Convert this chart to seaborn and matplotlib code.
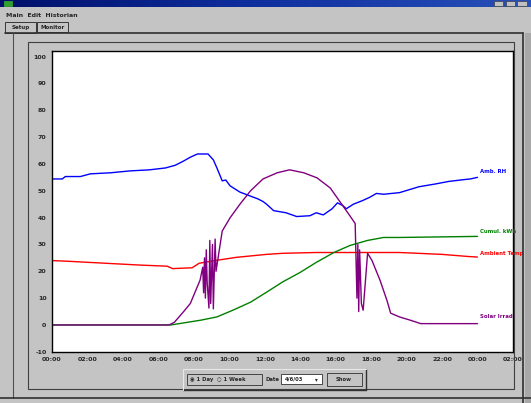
"""
Historian trend screen: ambient RH, temperature, cumulative energy and solar irradiance
"""
import numpy as np
import pandas as pd
import matplotlib
matplotlib.use('Agg')
import matplotlib.pyplot as plt
from matplotlib.patches import Rectangle
from matplotlib.lines import Line2D
import seaborn as sns

sns.set_style('white')
plt.rcParams['font.family'] = 'DejaVu Sans'

# hours since midnight and readings
rh_hours = [0.0, 0.58, 0.75, 1.6, 2.16, 3.3, 4.4, 5.5, 6.4, 6.95, 7.4, 7.8, 8.2, 8.8, 9.1, 9.3,
            9.6, 9.8, 10.05, 10.6, 11.2, 11.6, 11.9, 12.1, 12.5, 13.2, 13.8, 14.55, 14.9, 15.3,
            15.8, 16.1, 16.4, 16.6, 17.0, 17.5, 17.9, 18.3, 18.7, 19.6, 20.2, 20.7, 21.6, 22.4,
            23.3, 23.6, 24.0]
rh_vals = [54.4, 54.4, 55.3, 55.3, 56.3, 56.7, 57.4, 57.8, 58.5, 59.5, 61.0, 62.5, 63.7, 63.7,
           61.5, 58.5, 53.7, 54.0, 51.8, 49.5, 48.0, 47.0, 46.0, 45.0, 42.6, 41.8, 40.4, 40.7,
           41.8, 41.0, 43.3, 45.5, 44.5, 43.3, 45.0, 46.3, 47.5, 49.0, 48.7, 49.3, 50.5, 51.5,
           52.5, 53.5, 54.2, 54.4, 55.0]

temp_hours = [0.0, 1.0, 3.0, 5.0, 6.5, 6.8, 7.9, 8.3, 9.2, 10.4, 12.1, 13.0, 14.9, 19.6, 22.0,
              23.5, 24.0]
temp_vals = [24.0, 23.7, 23.0, 22.3, 21.9, 21.0, 21.3, 23.0, 24.0, 25.2, 26.3, 26.7, 27.0, 27.0,
             26.3, 25.5, 25.3]

kwh_hours = [0.0, 6.7, 8.4, 9.3, 10.2, 11.2, 12.1, 13.0, 14.0, 14.9, 15.9, 16.8, 17.8, 18.7,
             19.6, 24.0]
kwh_vals = [0.0, 0.0, 1.8, 3.0, 5.5, 8.5, 12.2, 16.0, 19.6, 23.3, 27.0, 29.6, 31.5, 32.6, 32.6,
            33.0]

sol_hours = [0.0, 6.6, 6.9, 7.4, 7.8, 8.35, 8.5, 8.55, 8.6, 8.65, 8.7, 8.75, 8.85, 8.9, 8.95,
             9.05, 9.1, 9.2, 9.25, 9.6, 10.05, 10.6, 11.2, 11.9, 12.7, 13.4, 14.2, 14.95, 15.7,
             16.2, 16.8, 17.1, 17.2, 17.25, 17.3, 17.35, 17.45, 17.55, 17.8, 18.05, 18.5, 18.9,
             19.1, 19.6, 20.2, 20.8, 24.0]
sol_vals = [0.0, 0.0, 1.0, 4.8, 8.0, 16.7, 21.5, 12.0, 25.0, 10.0, 28.0, 16.0, 6.3, 31.5, 8.0,
            30.0, 6.0, 32.0, 20.0, 35.0, 40.0, 45.0, 50.0, 54.4, 56.7, 57.8, 56.7, 54.8, 51.0,
            46.3, 40.7, 37.8, 10.0, 30.0, 5.0, 28.0, 8.0, 5.5, 26.7, 24.0, 16.7, 9.0, 4.4, 3.0,
            1.8, 0.5, 0.5]

series_names = ['Amb. RH', 'Ambient Temp', 'Cumul. kWh', 'Solar Irrad']
series_colors = ['#0000ff', '#ff0000', '#008000', '#800080']
label_levels = [57.0, 26.5, 35.0, 3.0]

x_tick_hours = list(range(0, 27, 2))
x_tick_labels = ['00:00', '02:00', '04:00', '06:00', '08:00', '10:00', '12:00', '14:00',
                 '16:00', '18:00', '20:00', '22:00', '00:00', '02:00']
y_ticks = [-10, 0, 10, 20, 30, 40, 50, 60, 70, 80, 90, 100]

frames = []
for name, hrs, vals in zip(series_names,
                           [rh_hours, temp_hours, kwh_hours, sol_hours],
                           [rh_vals, temp_vals, kwh_vals, sol_vals]):
    frames.append(pd.DataFrame({'hour': hrs, 'value': vals, 'series': name}))
df = pd.concat(frames, ignore_index=True)

fig = plt.figure(figsize=(5.31, 4.03), dpi=100)
fig.patch.set_facecolor('#c4c4c4')


def box(x, y, w, h, fc='none', ec='#303030', lw=0.6):
    fig.add_artist(Rectangle((x, y), w, h, transform=fig.transFigure,
                             facecolor=fc, edgecolor=ec, lw=lw))


def hline(x0, x1, y, color='#303030', lw=1.0):
    fig.add_artist(Line2D([x0, x1], [y, y], transform=fig.transFigure, color=color, lw=lw))


def vline(x, y0, y1, color='#303030', lw=1.0):
    fig.add_artist(Line2D([x, x], [y0, y1], transform=fig.transFigure, color=color, lw=lw))


# window chrome
tb = fig.add_axes([0, 0.983, 1, 0.017])
tb.imshow(np.linspace(0, 1, 200).reshape(1, -1),
          cmap=matplotlib.colors.LinearSegmentedColormap.from_list(
              'tb', ['#00106a', '#1030a0', '#2850b8']), aspect='auto')
tb.axis('off')
box(0.008, 0.985, 0.014, 0.013, fc='#30a030', ec='#30a030')
for i in range(3):
    box(0.93 + i * 0.022, 0.985, 0.018, 0.013, fc='#c0c0c0', ec='#404040', lw=0.5)
fig.text(0.012, 0.962, 'Main  Edit  Historian', fontsize=4.5, fontweight='bold', va='center')
box(0.010, 0.918, 0.058, 0.027, fc='#c4c4c4', ec='#202020')
box(0.070, 0.920, 0.058, 0.025, fc='#c4c4c4', ec='#202020')
fig.text(0.039, 0.931, 'Setup', fontsize=4, fontweight='bold', ha='center', va='center')
fig.text(0.099, 0.931, 'Monitor', fontsize=4, fontweight='bold', ha='center', va='center')

# outer panel and inner frame
hline(0.010, 0.985, 0.917, lw=1.2)
vline(0.025, 0.012, 0.917, color='#505050', lw=0.8)
vline(0.985, 0.0, 0.917, color='#303030', lw=1.2)
hline(0.0, 1.0, 0.012, color='#303030', lw=1.2)
box(0.053, 0.035, 0.915, 0.860, ec='#404040', lw=0.8)
fig.add_artist(Rectangle((0.988, 0.0), 0.012, 0.917, transform=fig.transFigure,
                         facecolor='#a8a8a8', edgecolor='none'))

ax = fig.add_axes([0.098, 0.127, 0.868, 0.746])
ax.set_facecolor('white')
sns.lineplot(data=df, x='hour', y='value', hue='series', palette=series_colors,
             hue_order=series_names, estimator=None, sort=False, lw=1.0, legend=False, ax=ax)

for name, color, level in zip(series_names, series_colors, label_levels):
    ax.text(24.15, level, name, color=color, fontsize=3.9, fontweight='bold', va='center')

ax.set_xlim(0, 26)
ax.set_ylim(-10, 102)
ax.set_xticks(x_tick_hours)
ax.set_xticklabels(x_tick_labels)
ax.set_yticks(y_ticks)
ax.set_yticklabels([str(v) for v in y_ticks])
ax.tick_params(axis='both', labelsize=4.5, length=3, width=1, pad=1,
               direction='out', color='black')
for lbl in ax.get_xticklabels() + ax.get_yticklabels():
    lbl.set_fontweight('bold')
ax.set_xlabel('')
ax.set_ylabel('')
for s in ax.spines.values():
    s.set_color('black')
    s.set_linewidth(1.0)

# control strip below the chart
hline(0.345, 0.69, 0.033, lw=1.0)
vline(0.69, 0.033, 0.085, lw=1.0)
vline(0.345, 0.033, 0.085, color='#e8e8e8', lw=0.8)
hline(0.345, 0.69, 0.085, color='#e8e8e8', lw=0.8)
box(0.352, 0.045, 0.142, 0.028)
fig.text(0.357, 0.059, '\u25c9 1 Day  \u25cb 1 Week', fontsize=3.8, fontweight='bold', va='center')
fig.text(0.500, 0.059, 'Date', fontsize=3.8, fontweight='bold', va='center')
box(0.530, 0.046, 0.076, 0.026, fc='white')
fig.text(0.537, 0.059, '4/6/03', fontsize=3.8, fontweight='bold', va='center')
fig.text(0.594, 0.059, '\u25be', fontsize=4, va='center')
box(0.615, 0.043, 0.066, 0.032, fc='#c4c4c4')
fig.text(0.648, 0.059, 'Show', fontsize=3.8, fontweight='bold', ha='center', va='center')

plt.savefig('out.png', dpi=100, facecolor=fig.get_facecolor())
plt.close()
